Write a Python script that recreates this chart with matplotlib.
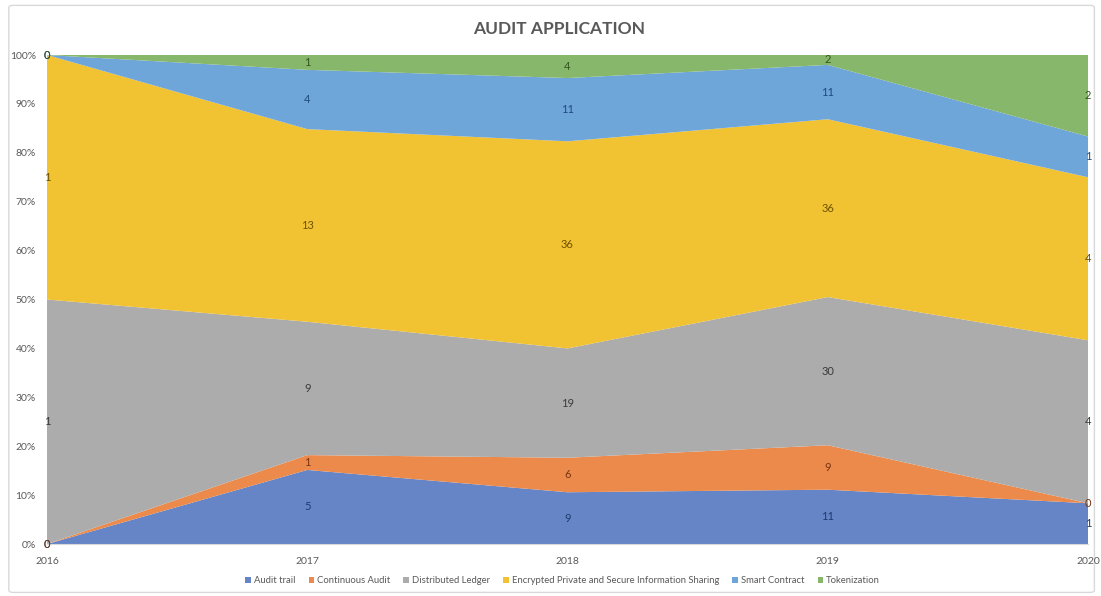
import numpy as np
import matplotlib.pyplot as plt
from matplotlib.patches import FancyBboxPatch, Patch

plt.rcParams['font.family'] = ['Lato', 'DejaVu Sans']

years = [2016, 2017, 2018, 2019, 2020]
series = ['Audit trail', 'Continuous Audit', 'Distributed Ledger',
          'Encrypted Private and Secure Information Sharing',
          'Smart Contract', 'Tokenization']
audit_trail = [0, 5, 9, 11, 1]
continuous_audit = [0, 1, 6, 9, 0]
distributed_ledger = [1, 9, 19, 30, 4]
encrypted_sharing = [1, 13, 36, 36, 4]
smart_contract = [0, 4, 11, 11, 1]
tokenization = [0, 1, 4, 2, 2]

fill_colors = ['#6585c7', '#ec8a4b', '#acacac', '#f1c232', '#6fa6da', '#86b76a']
label_colors = ['#1f3a6e', '#7a3510', '#3b3b3b', '#6e5300', '#1d4c7c', '#34561f']

counts = np.array([audit_trail, continuous_audit, distributed_ledger,
                   encrypted_sharing, smart_contract, tokenization], dtype=float)
totals = counts.sum(axis=0)
shares = counts / totals * 100
tops = np.cumsum(shares, axis=0)
bottoms = tops - shares

fig = plt.figure(figsize=(11.01, 5.96), dpi=100)

# outer chart frame
frame = FancyBboxPatch((0.008, 0.006), 0.986, 0.985, boxstyle='round,pad=0,rounding_size=0.004',
                       transform=fig.transFigure, facecolor='none', edgecolor='#d9d9d9',
                       linewidth=1.0, zorder=-1)
fig.patches.append(frame)

ax = fig.add_axes([0.0427, 0.0872, 0.9455, 0.8205])
ax.set_zorder(2)
ax.stackplot(years, shares, colors=fill_colors, linewidth=0)

# value labels in the middle of each band
for i in range(len(series)):
    for j, yr in enumerate(years):
        mid = (bottoms[i, j] + tops[i, j]) / 2
        ax.text(yr, mid, f'{int(counts[i, j])}', ha='center', va='center',
                fontsize=8, color=label_colors[i], zorder=5)

ax.set_xlim(2016, 2020)
ax.set_ylim(0, 100)
ax.set_xticks(years)
ax.set_xticklabels([str(y) for y in years])
ax.set_yticks(range(0, 101, 10))
ax.set_yticklabels([f'{v}%' for v in range(0, 101, 10)])
ax.tick_params(axis='both', length=0, labelsize=7.5, colors='#595959')
ax.tick_params(axis='x', pad=9)
ax.tick_params(axis='y', pad=8)
for s in ['top', 'right', 'left']:
    ax.spines[s].set_visible(False)
ax.spines['bottom'].set_color('#d9d9d9')

fig.text(0.508, 0.951, 'AUDIT APPLICATION', ha='center', va='center',
         fontsize=12.5, fontweight='bold', color='#595959')

handles = [Patch(facecolor=c, edgecolor='none') for c in fill_colors]
fig.legend(handles, series, loc='center', bbox_to_anchor=(0.511, 0.026), ncol=6,
           frameon=False, fontsize=6.8, handlelength=0.6, handleheight=0.6,
           handletextpad=0.3, columnspacing=1.4, labelcolor='#595959')

fig.savefig('out.png', dpi=100)
